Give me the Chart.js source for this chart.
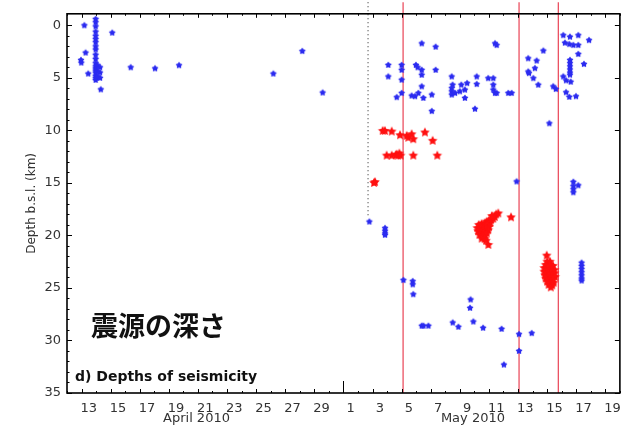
<!DOCTYPE html>
<html><head><meta charset="utf-8">
<script src="https://cdn.jsdelivr.net/npm/chart.js@4"></script>
<style>html,body{margin:0;padding:0;background:#fff;}canvas{display:block}</style>
</head><body>
<canvas id="c" width="629" height="434"></canvas>
<script>
// Time axis: days counted from 0 April 2010 (31 = 1 May 00:00)
const tickDays = [13,15,17,19,21,23,25,27,29,31,33,35,37,39,41,43,45,47,49];
const tickLabels = ['13','15','17','19','21','23','25','27','29','1','3','5','7','9','11','13','15','17','19'];
const depthTicks = [0,5,10,15,20,25,30,35];
const monthLabels = ['April 2010','May 2010'];

// Blue (shallow / other) events
const blueTime = [
 13.19,12.96,12.98,13.28,13.46,
 13.97,13.97,13.97,13.97,13.97,13.97,13.97,13.97,13.97,13.97,13.97,13.97,13.97,13.97,13.97,13.97,13.97,13.97,13.97,
 14.1,14.1,14.1,14.27,14.27,14.27,14.32,15.11,16.38,18.05,19.7,26.18,28.17,29.57,
 36.38,37.34,34.08,34.08,35.0,35.0,35.0,34.66,35.0,35.98,36.1,36.38,36.38,36.38,35.69,35.92,36.15,36.49,37.07,37.34,37.07,
 38.44,38.44,38.44,38.44,38.67,38.5,39.1,39.35,39.5,39.0,39.35,40.16,40.16,40.04,40.95,
 41.42,41.53,41.3,41.3,41.3,41.42,41.53,42.33,42.56,
 43.7,44.28,43.7,43.75,44.16,44.05,44.39,44.74,45.42,45.6,45.15,
 46.11,46.22,46.57,47.14,46.52,46.8,47.14,47.88,47.14,47.53,
 46.57,46.57,46.57,46.57,46.57,46.57,46.11,46.3,46.62,46.3,46.52,46.98,
 42.9,46.8,46.8,46.8,46.8,47.14,32.78,33.86,33.86,33.86,33.86,
 47.37,47.37,47.37,47.37,47.37,47.37,47.37,
 35.12,35.76,35.76,35.8,36.38,36.5,36.84,38.51,38.9,39.74,39.7,39.93,40.6,41.87,42.03,43.07,43.07,43.94
];
const blueDepth = [
 0.0,3.3,3.55,2.6,4.6,
 -0.6,-0.3,0.1,0.6,1.0,1.3,1.6,2.0,2.3,2.8,3.2,3.6,3.9,4.1,4.3,4.5,4.8,5.0,5.2,
 3.8,4.4,4.9,4.0,4.5,5.0,6.1,0.7,4.0,4.1,3.8,4.6,2.45,6.4,
 1.72,2.04,3.77,4.87,3.77,4.24,5.18,6.84,6.44,3.77,4.0,4.24,4.71,5.81,6.69,6.75,6.44,6.91,6.6,4.24,8.16,
 4.87,5.97,6.28,6.6,6.44,5.66,5.66,6.13,5.5,6.28,6.91,4.87,5.59,7.95,5.03,
 1.72,1.88,5.03,5.66,6.13,6.44,6.44,6.44,6.44,
 3.14,3.36,4.4,4.55,4.08,5.03,5.66,2.41,5.81,6.06,9.33,
 0.94,1.66,1.09,0.94,1.79,1.88,1.88,1.41,2.73,3.68,
 3.3,3.6,3.9,4.2,4.5,4.7,4.87,5.24,5.37,6.37,6.81,6.75,
 14.86,14.9,15.3,15.6,15.9,15.23,18.69,19.3,19.55,19.8,19.95,
 22.6,22.9,23.2,23.5,23.8,24.1,24.3,
 24.25,24.35,24.66,25.6,28.6,28.6,28.6,28.3,28.7,26.1,26.9,28.2,28.8,28.9,32.3,29.4,31.0,29.3
];

// Red (highlighted) events
const redTime = [
 33.7,33.85,34.32,34.89,35.35,35.45,35.69,35.8,36.6,37.13,
 33.97,34.32,34.6,34.66,34.75,34.84,34.93,35.8,37.45,33.17,33.1,
 41.64,41.5,41.4,41.3,41.15,41.0,40.85,41.1,40.7,40.5,40.3,40.45,40.65,40.85,41.0,40.2,40.4,40.6,40.8,40.95,
 40.25,40.45,40.65,40.85,40.35,40.55,40.75,40.5,40.7,40.8,40.96,41.2,42.52,
 44.97,45.0,45.2,44.9,45.15,45.4,44.8,45.05,45.3,45.5,44.8,45.0,45.25,45.5,44.85,45.1,45.35,45.55,
 44.9,45.15,45.4,45.0,45.25,45.45,45.1,45.35,45.25
];
const redDepth = [
 10.05,10.05,10.11,10.46,10.52,10.7,10.37,10.84,10.2,10.99,
 12.4,12.4,12.35,12.3,12.4,12.2,12.4,12.4,12.4,14.92,15.0,
 17.9,18.0,18.25,18.4,18.5,18.6,18.7,18.8,18.85,18.9,19.0,19.1,19.15,19.05,19.2,19.3,19.35,19.45,19.4,19.5,
 19.6,19.7,19.75,19.8,19.95,20.05,20.0,20.3,20.35,20.5,20.9,18.15,18.28,
 21.92,22.5,22.5,22.8,22.8,22.9,23.1,23.1,23.2,23.3,23.45,23.5,23.55,23.6,23.8,23.85,23.9,23.95,
 24.1,24.15,24.2,24.4,24.45,24.5,24.7,24.75,24.95
];

// Event markers
const eventTimes = [35.1, 43.07, 45.77];
const onsetTime = 32.69, onsetDepth = 18.2;

function starImage(color, R, ratio){
  const s = Math.ceil(R*2+2);
  const c = document.createElement('canvas'); c.width = c.height = s;
  const g = c.getContext('2d'); g.fillStyle = color; g.beginPath();
  for(let i=0;i<10;i++){
    const a = -Math.PI/2 + i*Math.PI/5, rr = (i%2)? R*ratio : R;
    g.lineTo(s/2 + rr*Math.cos(a), s/2 + rr*Math.sin(a));
  }
  g.closePath(); g.fill(); return c;
}
const blueStar = starImage('#2b2bf0', 3.6, 0.6);
const redStar = starImage('#ff1010', 5.0, 0.5);

const toPts = (t, d) => t.map((v,i)=>({x:v, y:d[i]}));

const datasets = [
  {data: toPts(blueTime, blueDepth), pointStyle: blueStar, pointRadius: 3, order: 1},
  {data: toPts(redTime, redDepth), pointStyle: redStar, pointRadius: 4, order: 0}
];
eventTimes.forEach(t => datasets.push({
  data: [{x:t, y:-2.2},{x:t, y:35}], showLine: true, pointRadius: 0,
  borderColor: 'rgba(232,50,70,0.85)', borderWidth: 1.3, clip: false, order: 3
}));
datasets.push({
  data: [{x:onsetTime, y:-2.2},{x:onsetTime, y:onsetDepth}], showLine: true, pointRadius: 0,
  borderColor: '#222', borderWidth: 1, borderDash: [1,3], clip: false, order: 3
});

const deco = {
  id: 'deco',
  afterDraw(chart){
    const ctx = chart.ctx, a = chart.chartArea, xs = chart.scales.x, ys = chart.scales.y;
    ctx.save();
    ctx.strokeStyle = '#000'; ctx.lineWidth = 1;
    ctx.beginPath();
    for(let d=12; d<=50; d++){
      const px = Math.round(xs.getPixelForValue(d)) + 0.5;
      let len = (d%2===1) ? 4 : 2;
      if(d===31) len = 12;
      ctx.moveTo(px, a.bottom); ctx.lineTo(px, a.bottom-len);
      ctx.moveTo(px, a.top); ctx.lineTo(px, a.top+Math.min(len,4));
    }
    for(let v=0; v<=35; v++){
      const py = Math.round(ys.getPixelForValue(v)) + 0.5;
      const len = (v%5===0) ? 5 : 2.5;
      ctx.moveTo(a.left, py); ctx.lineTo(a.left+len, py);
      if(v%5===0){ ctx.moveTo(a.right, py); ctx.lineTo(a.right-len, py); }
    }
    ctx.stroke();
    ctx.lineWidth = 1.6;
    ctx.strokeRect(a.left, a.top, a.right-a.left, a.bottom-a.top);
    // month labels
    ctx.fillStyle = '#333'; ctx.font = '13px "DejaVu Sans"'; ctx.textAlign = 'center'; ctx.textBaseline = 'middle';
    ctx.fillText(monthLabels[0], xs.getPixelForValue(20.9), 419);
    ctx.fillText(monthLabels[1], xs.getPixelForValue(39.9), 419);
    // y title
    ctx.save(); ctx.translate(32, (a.top+a.bottom)/2); ctx.rotate(-Math.PI/2);
    ctx.font = '12px "DejaVu Sans"'; ctx.fillText('Depth b.s.l. (km)', 0, 0); ctx.restore();
    // panel label
    ctx.fillStyle = '#111'; ctx.textAlign = 'left';
    ctx.font = 'bold 14px "DejaVu Sans"';
    ctx.fillText('d) Depths of seismicity', 75, 377);
    ctx.font = 'bold 27px "Noto Sans CJK JP"';
    ctx.fillText('震源の深さ', 91, 326);
    ctx.restore();
  }
};

new Chart(document.getElementById('c'), {
  type: 'scatter',
  data: {datasets},
  plugins: [deco],
  options: {
    responsive: false, animation: false, devicePixelRatio: 1,
    layout: {padding: {left: 0, top: 10, right: 9, bottom: 0}},
    plugins: {legend: {display: false}, tooltip: {enabled: false}},
    scales: {
      x: {
        type: 'linear', min: 12, max: 50,
        grid: {display: false, drawTicks: false}, border: {display: false},
        afterBuildTicks: s => { s.ticks = tickDays.map(d => ({value: d + 0.5})); },
        afterFit: s => { s.height = 41; },
        ticks: {
          autoSkip: false, maxRotation: 0, padding: 8, color: '#333',
          font: {family: 'DejaVu Sans', size: 13},
          callback: (v) => tickLabels[tickDays.indexOf(Math.round(v - 0.5))]
        }
      },
      y: {
        type: 'linear', min: -1.1, max: 35, reverse: true,
        grid: {display: false, drawTicks: false}, border: {display: false},
        afterBuildTicks: s => { s.ticks = depthTicks.map(v => ({value: v})); },
        afterFit: s => { s.width = 67; },
        ticks: {padding: 6, color: '#333', font: {family: 'DejaVu Sans', size: 13}}
      }
    }
  }
});
</script>
</body></html>
